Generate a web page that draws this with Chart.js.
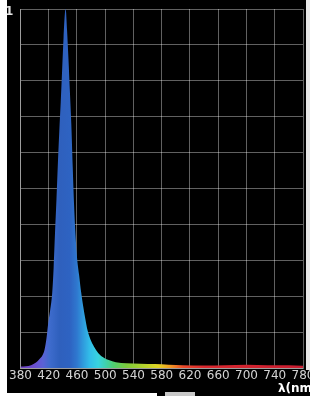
<!DOCTYPE html>
<html>
<head>
<meta charset="utf-8">
<script src="https://cdn.jsdelivr.net/npm/chart.js@4.4.1/dist/chart.umd.min.js"></script>
<style>
    html, body { margin: 0; padding: 0; background: #fff; overflow: hidden; }
    body { width: 310px; height: 396px; position: relative; }
    .chart-box { position: absolute; left: 7px; top: 0; width: 320px; height: 396px; background: #000; overflow: hidden; }
    .edge-right { position: absolute; left: 306px; top: 0; width: 4px; height: 370px; background: #e8e8e8; }
    .edge-bottom { position: absolute; left: 7px; top: 393px; width: 150px; height: 3px; background: #fff; }
    .scroll-bar { position: absolute; left: 165px; top: 392px; width: 30px; height: 4px; background: #c8c8c8; }
</style>
</head>
<body>
<div class="chart-box"><canvas id="spectrum-chart" width="320" height="396"></canvas></div>
<div class="edge-right"></div>
<div class="edge-bottom"></div>
<div class="scroll-bar"></div>
<script>
// Comprimento de onda (nm) e intensidade relativa
const wavelengths = [380, 395, 402, 407, 411, 414, 417, 419, 422, 425, 427, 429, 431, 433, 435, 437, 439, 441, 443, 444,
    446, 448, 450, 452, 454, 456, 458, 460, 463, 466, 469, 472, 475, 479, 484, 490, 497, 505, 515, 530,
    550, 570, 590, 610, 640, 670, 700, 730, 760, 780];
const intensity = [0.004, 0.008, 0.015, 0.025, 0.035, 0.05, 0.085, 0.12, 0.16, 0.21, 0.28, 0.38, 0.47, 0.57, 0.66, 0.74, 0.83, 0.92, 0.99, 1.0,
    0.94, 0.86, 0.77, 0.68, 0.56, 0.45, 0.37, 0.31, 0.26, 0.21, 0.17, 0.135, 0.105, 0.08, 0.06, 0.042, 0.03, 0.022, 0.016, 0.013,
    0.012, 0.011, 0.009, 0.008, 0.007, 0.008, 0.009, 0.008, 0.008, 0.006];
const xTickLabels = [380, 420, 460, 500, 540, 580, 620, 660, 700, 740, 780];
const yTopLabel = '1';
const xAxisLabel = 'λ(nm)';

// Cores do espectro visível (preenchimento)
const spectrumStops = [[380, '#6d3fc0'], [400, '#6a4fd0'], [412, '#5a62d6'], [422, '#3d6bcc'], [435, '#2f60bd'],
    [450, '#2e63c2'], [460, '#2f78cf'], [468, '#2f98dc'], [478, '#32bde9'], [490, '#38d3e0'], [500, '#3fd1b0'],
    [512, '#4fcf70'], [530, '#7ccb3c'], [555, '#b4d22c'], [575, '#e2d424'], [592, '#f39a22'], [610, '#ea4a2a'],
    [640, '#d8282e'], [780, '#c81d30']];

document.addEventListener('DOMContentLoaded', function() {
    const ctx = document.getElementById('spectrum-chart').getContext('2d');
    const gridColor = 'rgba(255, 255, 255, 0.38)';

    function spectrumFill(context) {
        const chart = context.chart;
        const xScale = chart.scales.x;
        if (!chart.chartArea || !xScale) return '#2f62c0';
        const x0 = xScale.getPixelForValue(380);
        const x1 = xScale.getPixelForValue(780);
        const gradient = chart.ctx.createLinearGradient(x0, 0, x1, 0);
        spectrumStops.forEach(function(s) {
            gradient.addColorStop((s[0] - 380) / 400, s[1]);
        });
        return gradient;
    }

    // Rótulo "1" do eixo y e título do eixo x
    const axisLabels = {
        id: 'axisLabels',
        afterDraw: function(chart) {
            const c = chart.ctx;
            const area = chart.chartArea;
            c.save();
            c.fillStyle = '#e6e6e6';
            c.font = 'bold 12px "DejaVu Sans"';
            c.textAlign = 'right';
            c.textBaseline = 'middle';
            c.fillText(yTopLabel, area.left - 7, chart.scales.y.getPixelForValue(1) + 3);
            c.textAlign = 'left';
            c.fillStyle = '#ffffff';
            c.fillText(xAxisLabel, area.right - 25, area.bottom + 21);
            c.restore();
        }
    };

    new Chart(ctx, {
        type: 'line',
        data: {
            datasets: [{
                data: wavelengths.map(function(w, i) { return { x: w, y: intensity[i] }; }),
                backgroundColor: spectrumFill,
                borderWidth: 0,
                pointRadius: 0,
                fill: 'origin',
                cubicInterpolationMode: 'monotone'
            }]
        },
        options: {
            responsive: false,
            devicePixelRatio: 1,
            animation: false,
            layout: { padding: { left: 12, right: 24, top: 9, bottom: 12 } },
            plugins: {
                legend: { display: false },
                tooltip: { enabled: false }
            },
            scales: {
                x: {
                    type: 'linear',
                    min: 380,
                    max: 780,
                    z: 1,
                    afterBuildTicks: function(scale) {
                        scale.ticks = xTickLabels.map(function(v) { return { value: v }; });
                    },
                    grid: { color: gridColor, drawTicks: false },
                    border: { color: gridColor },
                    ticks: {
                        color: '#d4d4d4',
                        font: { family: 'DejaVu Sans', size: 12, lineHeight: 1 },
                        padding: 2,
                        maxRotation: 0,
                        autoSkip: false
                    }
                },
                y: {
                    min: 0,
                    max: 1,
                    z: 1,
                    grid: { color: gridColor, drawTicks: false },
                    border: { color: gridColor },
                    ticks: { display: false, stepSize: 0.1 }
                }
            }
        },
        plugins: [axisLabels]
    });
});
</script>
</body>
</html>
